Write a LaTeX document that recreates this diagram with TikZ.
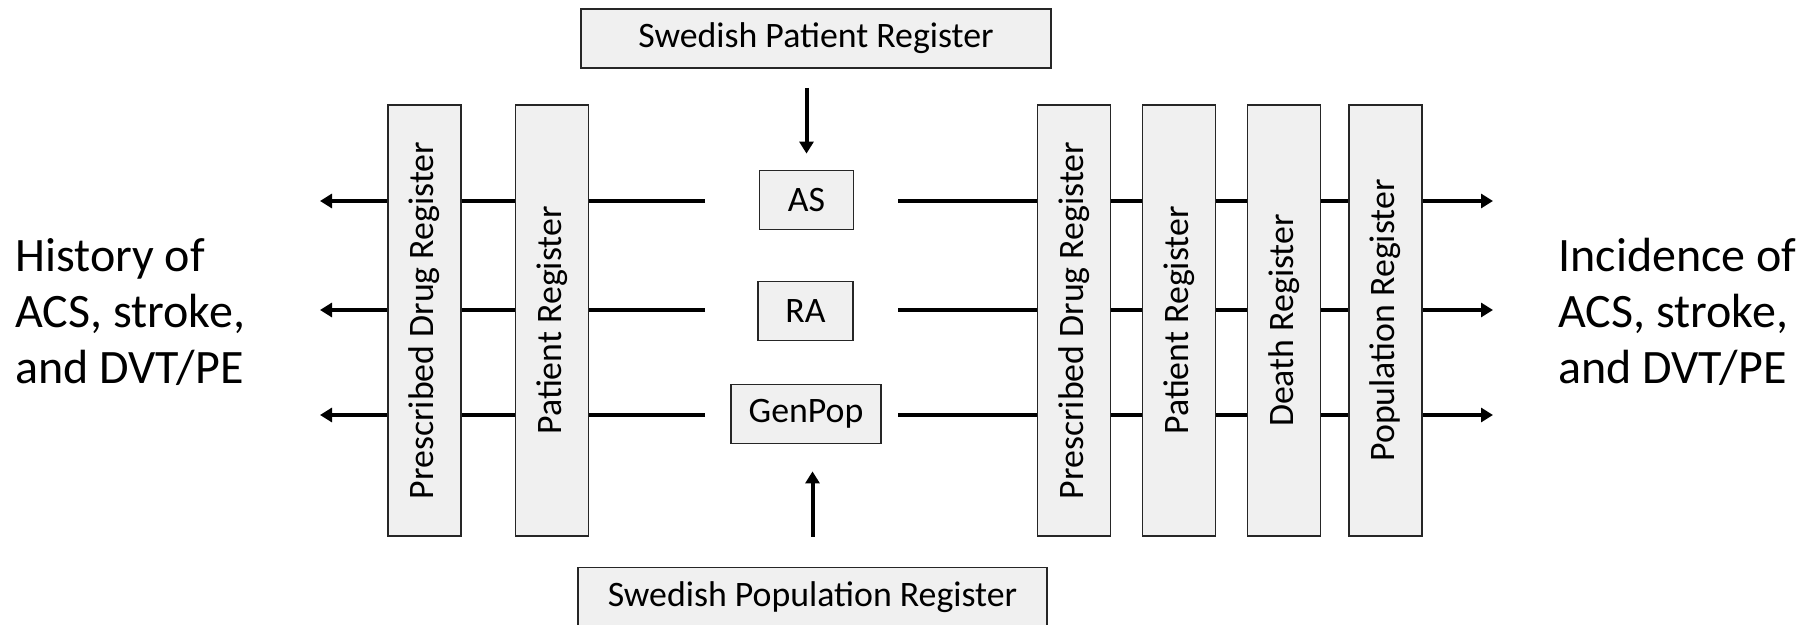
\documentclass[tikz,border=0pt]{standalone}
\usepackage{fontspec}
\setmainfont{Carlito}
\usetikzlibrary{arrows.meta}
\tikzset{
    reg-box/.style = {draw=black!85, fill=black!6, line width=0.9pt, rectangle, rotate=90, minimum width=215.5pt, minimum height=36.5pt, inner sep=0pt, font=\fontsize{17.9}{21}\selectfont},
    src-box/.style = {draw=black!85, fill=black!6, line width=0.9pt, rectangle, minimum height=29.5pt, inner sep=0pt, font=\fontsize{17.9}{21}\selectfont},
    side-text/.style = {align=left, anchor=west, inner sep=0pt, font=\fontsize{24}{28}\selectfont},
    flow/.style = {line width=2pt, -{Triangle[length=6pt,width=7pt]}},
}

\begin{document}
\begin{tikzpicture}[x=0.5pt, y=-0.5pt]
\useasboundingbox (0,0) rectangle (1805,625);
% cohorts in the middle
\node[src-box, minimum width=47pt] (as) at (806.5,200) {AS};
\node[src-box, minimum width=47.5pt] (ra) at (805.5,311) {RA};
\node[src-box, minimum width=75pt] (gp) at (806,414) {GenPop};
% lines back to history and forward to incidence
\foreach \c/\y in {as/201, ra/310, gp/415} {
    \coordinate (\c-l) at (705,\y);
    \coordinate (\c-r) at (898,\y);
    \coordinate (\c-hist) at (320,\y);
    \coordinate (\c-inc) at (1493,\y);
    \draw[flow] (\c-l) -- (\c-hist);
    \draw[flow] (\c-r) -- (\c-inc);
}
% registers crossed by the lines
\foreach \n/\x/\t in {drug-h/424.5/Prescribed Drug Register, pat-h/552/Patient Register,
    drug-f/1074/Prescribed Drug Register, pat-f/1179/Patient Register,
    death-f/1284/Death Register, pop-f/1385.5/Population Register} {
    \node[reg-box] (\n) at (\x,320.5) {\t};
}
\node[side-text] (hist) at (15,312) {History of\\ACS, stroke,\\and DVT/PE};
\node[side-text] (inc) at (1558,312) {Incidence of\\ACS, stroke,\\and DVT/PE};
% national registers that feed the cohorts
\node[src-box, minimum width=235pt] (spr) at (816,38.5) {Swedish Patient Register};
\node[src-box, minimum width=234.5pt] (spop) at (812.5,597) {Swedish Population Register};
\draw[flow, shorten <=9.5pt, shorten >=8pt] (as.north |- spr.south) -- (as.north);
\draw[flow, shorten <=15pt, shorten >=13.5pt] (spop.north) -- (spop.north |- gp.south);
\end{tikzpicture}
\end{document}
